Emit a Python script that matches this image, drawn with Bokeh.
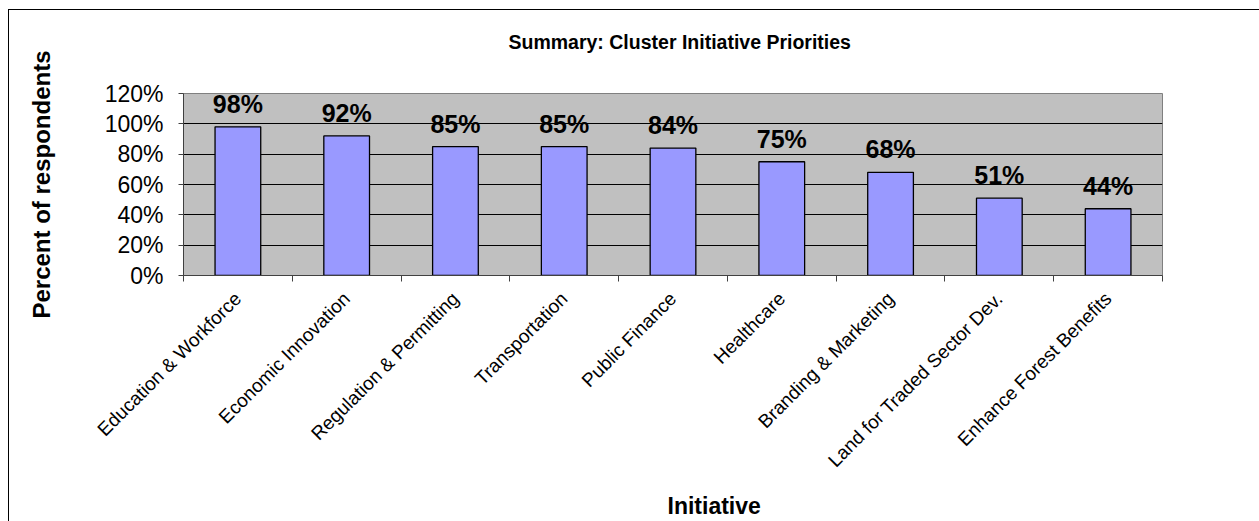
import math
from bokeh.plotting import figure
from bokeh.models import ColumnDataSource, FixedTicker, Range1d, Title
from bokeh.core.properties import value
from bokeh.embed import file_html
from bokeh.resources import INLINE

# ---- data ----
title_text = "Summary: Cluster Initiative Priorities"
x_title = "Initiative"
y_title = "Percent of respondents"
categories = [
    "Education & Workforce",
    "Economic Innovation",
    "Regulation & Permitting",
    "Transportation",
    "Public Finance",
    "Healthcare",
    "Branding & Marketing",
    "Land for Traded Sector Dev.",
    "Enhance Forest Benefits",
]
percent = [98, 92, 85, 85, 84, 75, 68, 51, 44]
y_ticks = [0, 20, 40, 60, 80, 100, 120]
y_tick_labels = ["0%", "20%", "40%", "60%", "80%", "100%", "120%"]

FONT = "Liberation Sans"

n = len(categories)
centers = [i + 0.5 for i in range(n)]
bounds = [float(i) for i in range(n + 1)]

src = ColumnDataSource(dict(
    x=centers,
    top=percent,
    label=[f"{v}%" for v in percent],
))

p = figure(
    frame_width=979, frame_height=182,
    min_border_left=174, min_border_right=97,
    min_border_top=83, min_border_bottom=246,
    x_range=Range1d(0, n), y_range=Range1d(y_ticks[0], y_ticks[-1]),
    output_backend="svg", toolbar_location=None, title=None,
)
p.styles = {
    "margin-left": "8px", "margin-top": "9px",
    "border-left": "1px solid #000000", "border-top": "1px solid #000000",
}

p.background_fill_color = "#C0C0C0"
p.border_fill_color = "white"
p.outline_line_color = "#808080"
p.outline_line_width = 1

# bars
p.vbar(x="x", top="top", width=0.42, source=src,
       fill_color="#9999FF", line_color="black", line_width=1.3)

# value labels
p.text(x="x", y="top", text="label", source=src,
       text_align="center", text_baseline="alphabetic", y_offset=-23,
       text_font=value(FONT), text_font_style="bold",
       text_font_size="25px", text_color="black")

# grid
p.xgrid.grid_line_color = None
p.ygrid.ticker = FixedTicker(ticks=y_ticks[1:-1])
p.ygrid.grid_line_color = "black"
p.ygrid.grid_line_width = 1

# y axis
ya = p.yaxis[0]
ya.ticker = FixedTicker(ticks=y_ticks)
ya.major_label_overrides = {t: l for t, l in zip(y_ticks, y_tick_labels)}
ya.major_label_text_font = FONT
ya.major_label_text_font_size = "23px"
ya.major_label_text_color = "black"
ya.major_tick_out = 5
ya.major_tick_in = 0
ya.minor_tick_line_color = None
ya.major_label_standoff = 15
ya.axis_line_color = "#404040"
ya.major_tick_line_color = "#404040"
ya.axis_label = y_title
ya.axis_label_standoff = 47
ya.axis_label_text_font = FONT
ya.axis_label_text_font_style = "bold"
ya.axis_label_text_font_size = "24px"
ya.axis_label_text_color = "black"

# x axis: labels at category centres, ticks at category boundaries
xa = p.xaxis[0]
xa.ticker = FixedTicker(ticks=centers, minor_ticks=bounds)
xa.major_label_overrides = {c: cat for c, cat in zip(centers, categories)}
xa.major_label_orientation = math.pi / 4
xa.major_label_text_font = FONT
xa.major_label_text_font_size = "19px"
xa.major_label_text_color = "black"
xa.major_tick_line_color = None
xa.major_tick_out = 0
xa.major_tick_in = 0
xa.minor_tick_out = 6
xa.minor_tick_in = 0
xa.minor_tick_line_color = "#404040"
xa.axis_line_color = "#404040"
xa.major_label_standoff = 14

# chart title: a thin spacer panel next to the frame, then the title itself
p.add_layout(Title(text=" ", text_font_size="1px", standoff=38), "above")
p.add_layout(Title(text=title_text, align="left", offset=325, standoff=0,
                   vertical_align="bottom",
                   text_font=FONT, text_font_style="bold", text_font_size="19.5px",
                   text_color="black"), "above")

# x axis title (side-panel title so it can be offset along the axis)
p.add_layout(Title(text=x_title, align="left", offset=484, standoff=18,
                   text_font=FONT, text_font_style="bold", text_font_size="23px",
                   text_color="black"), "below")

open("out.html", "w").write(file_html(p, INLINE))
